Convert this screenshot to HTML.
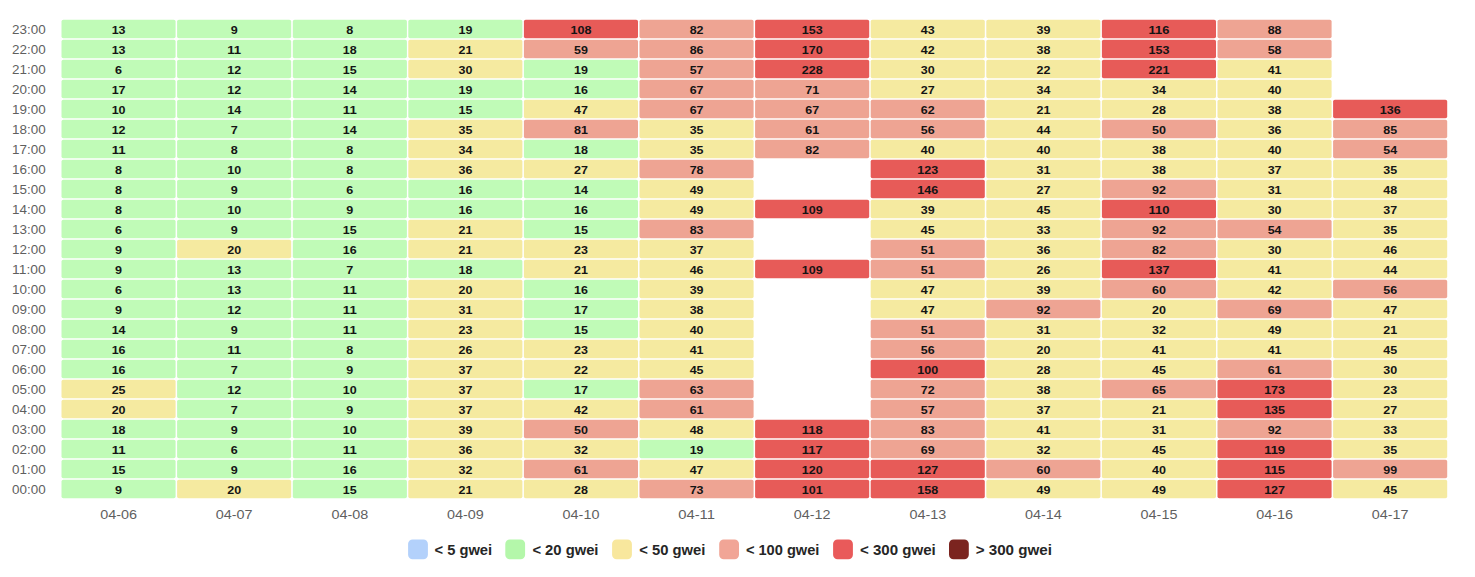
<!DOCTYPE html>
<html><head><meta charset="utf-8"><title>Gas heatmap</title>
<style>
html,body{margin:0;padding:0;background:#fff;}
body{width:1475px;height:577px;position:relative;overflow:hidden;font-family:"Liberation Sans",sans-serif;}
svg text{font-family:"Liberation Sans",sans-serif;dominant-baseline:central;}
.yl{font-size:12.2px;fill:#5f5f5f;}
.xl{font-size:12.2px;fill:#5f5f5f;text-anchor:middle;}
.v{font-size:11.0px;font-weight:bold;fill:#141414;text-anchor:middle;}
.lg{font-size:14px;font-weight:bold;fill:#262626;dominant-baseline:alphabetic;}
.legend{position:absolute;left:408px;top:539.5px;height:20px;white-space:nowrap;font-size:14px;font-weight:bold;color:#262626;}
.li{display:inline-block;height:20px;margin-right:13.5px;vertical-align:top;}
.sw{display:inline-block;width:20px;height:20px;border-radius:4.5px;vertical-align:top;margin-right:7px;}
.lt{display:inline-block;line-height:20px;vertical-align:top;}
</style></head><body>
<svg width="1475" height="577" viewBox="0 0 1475 577" style="position:absolute;left:0;top:0">
<g style="filter:blur(0.4px)">
<rect x="61.5" y="19.8" width="114.1" height="18.5" rx="1.8" fill="#c0fbb7"/>
<rect x="177.1" y="19.8" width="114.1" height="18.5" rx="1.8" fill="#c0fbb7"/>
<rect x="292.8" y="19.8" width="114.1" height="18.5" rx="1.8" fill="#c0fbb7"/>
<rect x="408.3" y="19.8" width="114.1" height="18.5" rx="1.8" fill="#c0fbb7"/>
<rect x="523.9" y="19.8" width="114.1" height="18.5" rx="1.8" fill="#e75b58"/>
<rect x="639.5" y="19.8" width="114.1" height="18.5" rx="1.8" fill="#eea493"/>
<rect x="755.1" y="19.8" width="114.1" height="18.5" rx="1.8" fill="#e75b58"/>
<rect x="870.7" y="19.8" width="114.1" height="18.5" rx="1.8" fill="#f5eaa0"/>
<rect x="986.3" y="19.8" width="114.1" height="18.5" rx="1.8" fill="#f5eaa0"/>
<rect x="1101.9" y="19.8" width="114.1" height="18.5" rx="1.8" fill="#e75b58"/>
<rect x="1217.5" y="19.8" width="114.1" height="18.5" rx="1.8" fill="#eea493"/>
<rect x="61.5" y="39.8" width="114.1" height="18.5" rx="1.8" fill="#c0fbb7"/>
<rect x="177.1" y="39.8" width="114.1" height="18.5" rx="1.8" fill="#c0fbb7"/>
<rect x="292.8" y="39.8" width="114.1" height="18.5" rx="1.8" fill="#c0fbb7"/>
<rect x="408.3" y="39.8" width="114.1" height="18.5" rx="1.8" fill="#f5eaa0"/>
<rect x="523.9" y="39.8" width="114.1" height="18.5" rx="1.8" fill="#eea493"/>
<rect x="639.5" y="39.8" width="114.1" height="18.5" rx="1.8" fill="#eea493"/>
<rect x="755.1" y="39.8" width="114.1" height="18.5" rx="1.8" fill="#e75b58"/>
<rect x="870.7" y="39.8" width="114.1" height="18.5" rx="1.8" fill="#f5eaa0"/>
<rect x="986.3" y="39.8" width="114.1" height="18.5" rx="1.8" fill="#f5eaa0"/>
<rect x="1101.9" y="39.8" width="114.1" height="18.5" rx="1.8" fill="#e75b58"/>
<rect x="1217.5" y="39.8" width="114.1" height="18.5" rx="1.8" fill="#eea493"/>
<rect x="61.5" y="59.8" width="114.1" height="18.5" rx="1.8" fill="#c0fbb7"/>
<rect x="177.1" y="59.8" width="114.1" height="18.5" rx="1.8" fill="#c0fbb7"/>
<rect x="292.8" y="59.8" width="114.1" height="18.5" rx="1.8" fill="#c0fbb7"/>
<rect x="408.3" y="59.8" width="114.1" height="18.5" rx="1.8" fill="#f5eaa0"/>
<rect x="523.9" y="59.8" width="114.1" height="18.5" rx="1.8" fill="#c0fbb7"/>
<rect x="639.5" y="59.8" width="114.1" height="18.5" rx="1.8" fill="#eea493"/>
<rect x="755.1" y="59.8" width="114.1" height="18.5" rx="1.8" fill="#e75b58"/>
<rect x="870.7" y="59.8" width="114.1" height="18.5" rx="1.8" fill="#f5eaa0"/>
<rect x="986.3" y="59.8" width="114.1" height="18.5" rx="1.8" fill="#f5eaa0"/>
<rect x="1101.9" y="59.8" width="114.1" height="18.5" rx="1.8" fill="#e75b58"/>
<rect x="1217.5" y="59.8" width="114.1" height="18.5" rx="1.8" fill="#f5eaa0"/>
<rect x="61.5" y="79.8" width="114.1" height="18.5" rx="1.8" fill="#c0fbb7"/>
<rect x="177.1" y="79.8" width="114.1" height="18.5" rx="1.8" fill="#c0fbb7"/>
<rect x="292.8" y="79.8" width="114.1" height="18.5" rx="1.8" fill="#c0fbb7"/>
<rect x="408.3" y="79.8" width="114.1" height="18.5" rx="1.8" fill="#c0fbb7"/>
<rect x="523.9" y="79.8" width="114.1" height="18.5" rx="1.8" fill="#c0fbb7"/>
<rect x="639.5" y="79.8" width="114.1" height="18.5" rx="1.8" fill="#eea493"/>
<rect x="755.1" y="79.8" width="114.1" height="18.5" rx="1.8" fill="#eea493"/>
<rect x="870.7" y="79.8" width="114.1" height="18.5" rx="1.8" fill="#f5eaa0"/>
<rect x="986.3" y="79.8" width="114.1" height="18.5" rx="1.8" fill="#f5eaa0"/>
<rect x="1101.9" y="79.8" width="114.1" height="18.5" rx="1.8" fill="#f5eaa0"/>
<rect x="1217.5" y="79.8" width="114.1" height="18.5" rx="1.8" fill="#f5eaa0"/>
<rect x="61.5" y="99.8" width="114.1" height="18.5" rx="1.8" fill="#c0fbb7"/>
<rect x="177.1" y="99.8" width="114.1" height="18.5" rx="1.8" fill="#c0fbb7"/>
<rect x="292.8" y="99.8" width="114.1" height="18.5" rx="1.8" fill="#c0fbb7"/>
<rect x="408.3" y="99.8" width="114.1" height="18.5" rx="1.8" fill="#c0fbb7"/>
<rect x="523.9" y="99.8" width="114.1" height="18.5" rx="1.8" fill="#f5eaa0"/>
<rect x="639.5" y="99.8" width="114.1" height="18.5" rx="1.8" fill="#eea493"/>
<rect x="755.1" y="99.8" width="114.1" height="18.5" rx="1.8" fill="#eea493"/>
<rect x="870.7" y="99.8" width="114.1" height="18.5" rx="1.8" fill="#eea493"/>
<rect x="986.3" y="99.8" width="114.1" height="18.5" rx="1.8" fill="#f5eaa0"/>
<rect x="1101.9" y="99.8" width="114.1" height="18.5" rx="1.8" fill="#f5eaa0"/>
<rect x="1217.5" y="99.8" width="114.1" height="18.5" rx="1.8" fill="#f5eaa0"/>
<rect x="1333.1" y="99.8" width="114.1" height="18.5" rx="1.8" fill="#e75b58"/>
<rect x="61.5" y="119.8" width="114.1" height="18.5" rx="1.8" fill="#c0fbb7"/>
<rect x="177.1" y="119.8" width="114.1" height="18.5" rx="1.8" fill="#c0fbb7"/>
<rect x="292.8" y="119.8" width="114.1" height="18.5" rx="1.8" fill="#c0fbb7"/>
<rect x="408.3" y="119.8" width="114.1" height="18.5" rx="1.8" fill="#f5eaa0"/>
<rect x="523.9" y="119.8" width="114.1" height="18.5" rx="1.8" fill="#eea493"/>
<rect x="639.5" y="119.8" width="114.1" height="18.5" rx="1.8" fill="#f5eaa0"/>
<rect x="755.1" y="119.8" width="114.1" height="18.5" rx="1.8" fill="#eea493"/>
<rect x="870.7" y="119.8" width="114.1" height="18.5" rx="1.8" fill="#eea493"/>
<rect x="986.3" y="119.8" width="114.1" height="18.5" rx="1.8" fill="#f5eaa0"/>
<rect x="1101.9" y="119.8" width="114.1" height="18.5" rx="1.8" fill="#eea493"/>
<rect x="1217.5" y="119.8" width="114.1" height="18.5" rx="1.8" fill="#f5eaa0"/>
<rect x="1333.1" y="119.8" width="114.1" height="18.5" rx="1.8" fill="#eea493"/>
<rect x="61.5" y="139.8" width="114.1" height="18.5" rx="1.8" fill="#c0fbb7"/>
<rect x="177.1" y="139.8" width="114.1" height="18.5" rx="1.8" fill="#c0fbb7"/>
<rect x="292.8" y="139.8" width="114.1" height="18.5" rx="1.8" fill="#c0fbb7"/>
<rect x="408.3" y="139.8" width="114.1" height="18.5" rx="1.8" fill="#f5eaa0"/>
<rect x="523.9" y="139.8" width="114.1" height="18.5" rx="1.8" fill="#c0fbb7"/>
<rect x="639.5" y="139.8" width="114.1" height="18.5" rx="1.8" fill="#f5eaa0"/>
<rect x="755.1" y="139.8" width="114.1" height="18.5" rx="1.8" fill="#eea493"/>
<rect x="870.7" y="139.8" width="114.1" height="18.5" rx="1.8" fill="#f5eaa0"/>
<rect x="986.3" y="139.8" width="114.1" height="18.5" rx="1.8" fill="#f5eaa0"/>
<rect x="1101.9" y="139.8" width="114.1" height="18.5" rx="1.8" fill="#f5eaa0"/>
<rect x="1217.5" y="139.8" width="114.1" height="18.5" rx="1.8" fill="#f5eaa0"/>
<rect x="1333.1" y="139.8" width="114.1" height="18.5" rx="1.8" fill="#eea493"/>
<rect x="61.5" y="159.8" width="114.1" height="18.5" rx="1.8" fill="#c0fbb7"/>
<rect x="177.1" y="159.8" width="114.1" height="18.5" rx="1.8" fill="#c0fbb7"/>
<rect x="292.8" y="159.8" width="114.1" height="18.5" rx="1.8" fill="#c0fbb7"/>
<rect x="408.3" y="159.8" width="114.1" height="18.5" rx="1.8" fill="#f5eaa0"/>
<rect x="523.9" y="159.8" width="114.1" height="18.5" rx="1.8" fill="#f5eaa0"/>
<rect x="639.5" y="159.8" width="114.1" height="18.5" rx="1.8" fill="#eea493"/>
<rect x="870.7" y="159.8" width="114.1" height="18.5" rx="1.8" fill="#e75b58"/>
<rect x="986.3" y="159.8" width="114.1" height="18.5" rx="1.8" fill="#f5eaa0"/>
<rect x="1101.9" y="159.8" width="114.1" height="18.5" rx="1.8" fill="#f5eaa0"/>
<rect x="1217.5" y="159.8" width="114.1" height="18.5" rx="1.8" fill="#f5eaa0"/>
<rect x="1333.1" y="159.8" width="114.1" height="18.5" rx="1.8" fill="#f5eaa0"/>
<rect x="61.5" y="179.8" width="114.1" height="18.5" rx="1.8" fill="#c0fbb7"/>
<rect x="177.1" y="179.8" width="114.1" height="18.5" rx="1.8" fill="#c0fbb7"/>
<rect x="292.8" y="179.8" width="114.1" height="18.5" rx="1.8" fill="#c0fbb7"/>
<rect x="408.3" y="179.8" width="114.1" height="18.5" rx="1.8" fill="#c0fbb7"/>
<rect x="523.9" y="179.8" width="114.1" height="18.5" rx="1.8" fill="#c0fbb7"/>
<rect x="639.5" y="179.8" width="114.1" height="18.5" rx="1.8" fill="#f5eaa0"/>
<rect x="870.7" y="179.8" width="114.1" height="18.5" rx="1.8" fill="#e75b58"/>
<rect x="986.3" y="179.8" width="114.1" height="18.5" rx="1.8" fill="#f5eaa0"/>
<rect x="1101.9" y="179.8" width="114.1" height="18.5" rx="1.8" fill="#eea493"/>
<rect x="1217.5" y="179.8" width="114.1" height="18.5" rx="1.8" fill="#f5eaa0"/>
<rect x="1333.1" y="179.8" width="114.1" height="18.5" rx="1.8" fill="#f5eaa0"/>
<rect x="61.5" y="199.8" width="114.1" height="18.5" rx="1.8" fill="#c0fbb7"/>
<rect x="177.1" y="199.8" width="114.1" height="18.5" rx="1.8" fill="#c0fbb7"/>
<rect x="292.8" y="199.8" width="114.1" height="18.5" rx="1.8" fill="#c0fbb7"/>
<rect x="408.3" y="199.8" width="114.1" height="18.5" rx="1.8" fill="#c0fbb7"/>
<rect x="523.9" y="199.8" width="114.1" height="18.5" rx="1.8" fill="#c0fbb7"/>
<rect x="639.5" y="199.8" width="114.1" height="18.5" rx="1.8" fill="#f5eaa0"/>
<rect x="755.1" y="199.8" width="114.1" height="18.5" rx="1.8" fill="#e75b58"/>
<rect x="870.7" y="199.8" width="114.1" height="18.5" rx="1.8" fill="#f5eaa0"/>
<rect x="986.3" y="199.8" width="114.1" height="18.5" rx="1.8" fill="#f5eaa0"/>
<rect x="1101.9" y="199.8" width="114.1" height="18.5" rx="1.8" fill="#e75b58"/>
<rect x="1217.5" y="199.8" width="114.1" height="18.5" rx="1.8" fill="#f5eaa0"/>
<rect x="1333.1" y="199.8" width="114.1" height="18.5" rx="1.8" fill="#f5eaa0"/>
<rect x="61.5" y="219.8" width="114.1" height="18.5" rx="1.8" fill="#c0fbb7"/>
<rect x="177.1" y="219.8" width="114.1" height="18.5" rx="1.8" fill="#c0fbb7"/>
<rect x="292.8" y="219.8" width="114.1" height="18.5" rx="1.8" fill="#c0fbb7"/>
<rect x="408.3" y="219.8" width="114.1" height="18.5" rx="1.8" fill="#f5eaa0"/>
<rect x="523.9" y="219.8" width="114.1" height="18.5" rx="1.8" fill="#c0fbb7"/>
<rect x="639.5" y="219.8" width="114.1" height="18.5" rx="1.8" fill="#eea493"/>
<rect x="870.7" y="219.8" width="114.1" height="18.5" rx="1.8" fill="#f5eaa0"/>
<rect x="986.3" y="219.8" width="114.1" height="18.5" rx="1.8" fill="#f5eaa0"/>
<rect x="1101.9" y="219.8" width="114.1" height="18.5" rx="1.8" fill="#eea493"/>
<rect x="1217.5" y="219.8" width="114.1" height="18.5" rx="1.8" fill="#eea493"/>
<rect x="1333.1" y="219.8" width="114.1" height="18.5" rx="1.8" fill="#f5eaa0"/>
<rect x="61.5" y="239.8" width="114.1" height="18.5" rx="1.8" fill="#c0fbb7"/>
<rect x="177.1" y="239.8" width="114.1" height="18.5" rx="1.8" fill="#f5eaa0"/>
<rect x="292.8" y="239.8" width="114.1" height="18.5" rx="1.8" fill="#c0fbb7"/>
<rect x="408.3" y="239.8" width="114.1" height="18.5" rx="1.8" fill="#f5eaa0"/>
<rect x="523.9" y="239.8" width="114.1" height="18.5" rx="1.8" fill="#f5eaa0"/>
<rect x="639.5" y="239.8" width="114.1" height="18.5" rx="1.8" fill="#f5eaa0"/>
<rect x="870.7" y="239.8" width="114.1" height="18.5" rx="1.8" fill="#eea493"/>
<rect x="986.3" y="239.8" width="114.1" height="18.5" rx="1.8" fill="#f5eaa0"/>
<rect x="1101.9" y="239.8" width="114.1" height="18.5" rx="1.8" fill="#eea493"/>
<rect x="1217.5" y="239.8" width="114.1" height="18.5" rx="1.8" fill="#f5eaa0"/>
<rect x="1333.1" y="239.8" width="114.1" height="18.5" rx="1.8" fill="#f5eaa0"/>
<rect x="61.5" y="259.8" width="114.1" height="18.5" rx="1.8" fill="#c0fbb7"/>
<rect x="177.1" y="259.8" width="114.1" height="18.5" rx="1.8" fill="#c0fbb7"/>
<rect x="292.8" y="259.8" width="114.1" height="18.5" rx="1.8" fill="#c0fbb7"/>
<rect x="408.3" y="259.8" width="114.1" height="18.5" rx="1.8" fill="#c0fbb7"/>
<rect x="523.9" y="259.8" width="114.1" height="18.5" rx="1.8" fill="#f5eaa0"/>
<rect x="639.5" y="259.8" width="114.1" height="18.5" rx="1.8" fill="#f5eaa0"/>
<rect x="755.1" y="259.8" width="114.1" height="18.5" rx="1.8" fill="#e75b58"/>
<rect x="870.7" y="259.8" width="114.1" height="18.5" rx="1.8" fill="#eea493"/>
<rect x="986.3" y="259.8" width="114.1" height="18.5" rx="1.8" fill="#f5eaa0"/>
<rect x="1101.9" y="259.8" width="114.1" height="18.5" rx="1.8" fill="#e75b58"/>
<rect x="1217.5" y="259.8" width="114.1" height="18.5" rx="1.8" fill="#f5eaa0"/>
<rect x="1333.1" y="259.8" width="114.1" height="18.5" rx="1.8" fill="#f5eaa0"/>
<rect x="61.5" y="279.8" width="114.1" height="18.5" rx="1.8" fill="#c0fbb7"/>
<rect x="177.1" y="279.8" width="114.1" height="18.5" rx="1.8" fill="#c0fbb7"/>
<rect x="292.8" y="279.8" width="114.1" height="18.5" rx="1.8" fill="#c0fbb7"/>
<rect x="408.3" y="279.8" width="114.1" height="18.5" rx="1.8" fill="#f5eaa0"/>
<rect x="523.9" y="279.8" width="114.1" height="18.5" rx="1.8" fill="#c0fbb7"/>
<rect x="639.5" y="279.8" width="114.1" height="18.5" rx="1.8" fill="#f5eaa0"/>
<rect x="870.7" y="279.8" width="114.1" height="18.5" rx="1.8" fill="#f5eaa0"/>
<rect x="986.3" y="279.8" width="114.1" height="18.5" rx="1.8" fill="#f5eaa0"/>
<rect x="1101.9" y="279.8" width="114.1" height="18.5" rx="1.8" fill="#eea493"/>
<rect x="1217.5" y="279.8" width="114.1" height="18.5" rx="1.8" fill="#f5eaa0"/>
<rect x="1333.1" y="279.8" width="114.1" height="18.5" rx="1.8" fill="#eea493"/>
<rect x="61.5" y="299.8" width="114.1" height="18.5" rx="1.8" fill="#c0fbb7"/>
<rect x="177.1" y="299.8" width="114.1" height="18.5" rx="1.8" fill="#c0fbb7"/>
<rect x="292.8" y="299.8" width="114.1" height="18.5" rx="1.8" fill="#c0fbb7"/>
<rect x="408.3" y="299.8" width="114.1" height="18.5" rx="1.8" fill="#f5eaa0"/>
<rect x="523.9" y="299.8" width="114.1" height="18.5" rx="1.8" fill="#c0fbb7"/>
<rect x="639.5" y="299.8" width="114.1" height="18.5" rx="1.8" fill="#f5eaa0"/>
<rect x="870.7" y="299.8" width="114.1" height="18.5" rx="1.8" fill="#f5eaa0"/>
<rect x="986.3" y="299.8" width="114.1" height="18.5" rx="1.8" fill="#eea493"/>
<rect x="1101.9" y="299.8" width="114.1" height="18.5" rx="1.8" fill="#f5eaa0"/>
<rect x="1217.5" y="299.8" width="114.1" height="18.5" rx="1.8" fill="#eea493"/>
<rect x="1333.1" y="299.8" width="114.1" height="18.5" rx="1.8" fill="#f5eaa0"/>
<rect x="61.5" y="319.8" width="114.1" height="18.5" rx="1.8" fill="#c0fbb7"/>
<rect x="177.1" y="319.8" width="114.1" height="18.5" rx="1.8" fill="#c0fbb7"/>
<rect x="292.8" y="319.8" width="114.1" height="18.5" rx="1.8" fill="#c0fbb7"/>
<rect x="408.3" y="319.8" width="114.1" height="18.5" rx="1.8" fill="#f5eaa0"/>
<rect x="523.9" y="319.8" width="114.1" height="18.5" rx="1.8" fill="#c0fbb7"/>
<rect x="639.5" y="319.8" width="114.1" height="18.5" rx="1.8" fill="#f5eaa0"/>
<rect x="870.7" y="319.8" width="114.1" height="18.5" rx="1.8" fill="#eea493"/>
<rect x="986.3" y="319.8" width="114.1" height="18.5" rx="1.8" fill="#f5eaa0"/>
<rect x="1101.9" y="319.8" width="114.1" height="18.5" rx="1.8" fill="#f5eaa0"/>
<rect x="1217.5" y="319.8" width="114.1" height="18.5" rx="1.8" fill="#f5eaa0"/>
<rect x="1333.1" y="319.8" width="114.1" height="18.5" rx="1.8" fill="#f5eaa0"/>
<rect x="61.5" y="339.8" width="114.1" height="18.5" rx="1.8" fill="#c0fbb7"/>
<rect x="177.1" y="339.8" width="114.1" height="18.5" rx="1.8" fill="#c0fbb7"/>
<rect x="292.8" y="339.8" width="114.1" height="18.5" rx="1.8" fill="#c0fbb7"/>
<rect x="408.3" y="339.8" width="114.1" height="18.5" rx="1.8" fill="#f5eaa0"/>
<rect x="523.9" y="339.8" width="114.1" height="18.5" rx="1.8" fill="#f5eaa0"/>
<rect x="639.5" y="339.8" width="114.1" height="18.5" rx="1.8" fill="#f5eaa0"/>
<rect x="870.7" y="339.8" width="114.1" height="18.5" rx="1.8" fill="#eea493"/>
<rect x="986.3" y="339.8" width="114.1" height="18.5" rx="1.8" fill="#f5eaa0"/>
<rect x="1101.9" y="339.8" width="114.1" height="18.5" rx="1.8" fill="#f5eaa0"/>
<rect x="1217.5" y="339.8" width="114.1" height="18.5" rx="1.8" fill="#f5eaa0"/>
<rect x="1333.1" y="339.8" width="114.1" height="18.5" rx="1.8" fill="#f5eaa0"/>
<rect x="61.5" y="359.8" width="114.1" height="18.5" rx="1.8" fill="#c0fbb7"/>
<rect x="177.1" y="359.8" width="114.1" height="18.5" rx="1.8" fill="#c0fbb7"/>
<rect x="292.8" y="359.8" width="114.1" height="18.5" rx="1.8" fill="#c0fbb7"/>
<rect x="408.3" y="359.8" width="114.1" height="18.5" rx="1.8" fill="#f5eaa0"/>
<rect x="523.9" y="359.8" width="114.1" height="18.5" rx="1.8" fill="#f5eaa0"/>
<rect x="639.5" y="359.8" width="114.1" height="18.5" rx="1.8" fill="#f5eaa0"/>
<rect x="870.7" y="359.8" width="114.1" height="18.5" rx="1.8" fill="#e75b58"/>
<rect x="986.3" y="359.8" width="114.1" height="18.5" rx="1.8" fill="#f5eaa0"/>
<rect x="1101.9" y="359.8" width="114.1" height="18.5" rx="1.8" fill="#f5eaa0"/>
<rect x="1217.5" y="359.8" width="114.1" height="18.5" rx="1.8" fill="#eea493"/>
<rect x="1333.1" y="359.8" width="114.1" height="18.5" rx="1.8" fill="#f5eaa0"/>
<rect x="61.5" y="379.8" width="114.1" height="18.5" rx="1.8" fill="#f5eaa0"/>
<rect x="177.1" y="379.8" width="114.1" height="18.5" rx="1.8" fill="#c0fbb7"/>
<rect x="292.8" y="379.8" width="114.1" height="18.5" rx="1.8" fill="#c0fbb7"/>
<rect x="408.3" y="379.8" width="114.1" height="18.5" rx="1.8" fill="#f5eaa0"/>
<rect x="523.9" y="379.8" width="114.1" height="18.5" rx="1.8" fill="#c0fbb7"/>
<rect x="639.5" y="379.8" width="114.1" height="18.5" rx="1.8" fill="#eea493"/>
<rect x="870.7" y="379.8" width="114.1" height="18.5" rx="1.8" fill="#eea493"/>
<rect x="986.3" y="379.8" width="114.1" height="18.5" rx="1.8" fill="#f5eaa0"/>
<rect x="1101.9" y="379.8" width="114.1" height="18.5" rx="1.8" fill="#eea493"/>
<rect x="1217.5" y="379.8" width="114.1" height="18.5" rx="1.8" fill="#e75b58"/>
<rect x="1333.1" y="379.8" width="114.1" height="18.5" rx="1.8" fill="#f5eaa0"/>
<rect x="61.5" y="399.8" width="114.1" height="18.5" rx="1.8" fill="#f5eaa0"/>
<rect x="177.1" y="399.8" width="114.1" height="18.5" rx="1.8" fill="#c0fbb7"/>
<rect x="292.8" y="399.8" width="114.1" height="18.5" rx="1.8" fill="#c0fbb7"/>
<rect x="408.3" y="399.8" width="114.1" height="18.5" rx="1.8" fill="#f5eaa0"/>
<rect x="523.9" y="399.8" width="114.1" height="18.5" rx="1.8" fill="#f5eaa0"/>
<rect x="639.5" y="399.8" width="114.1" height="18.5" rx="1.8" fill="#eea493"/>
<rect x="870.7" y="399.8" width="114.1" height="18.5" rx="1.8" fill="#eea493"/>
<rect x="986.3" y="399.8" width="114.1" height="18.5" rx="1.8" fill="#f5eaa0"/>
<rect x="1101.9" y="399.8" width="114.1" height="18.5" rx="1.8" fill="#f5eaa0"/>
<rect x="1217.5" y="399.8" width="114.1" height="18.5" rx="1.8" fill="#e75b58"/>
<rect x="1333.1" y="399.8" width="114.1" height="18.5" rx="1.8" fill="#f5eaa0"/>
<rect x="61.5" y="419.8" width="114.1" height="18.5" rx="1.8" fill="#c0fbb7"/>
<rect x="177.1" y="419.8" width="114.1" height="18.5" rx="1.8" fill="#c0fbb7"/>
<rect x="292.8" y="419.8" width="114.1" height="18.5" rx="1.8" fill="#c0fbb7"/>
<rect x="408.3" y="419.8" width="114.1" height="18.5" rx="1.8" fill="#f5eaa0"/>
<rect x="523.9" y="419.8" width="114.1" height="18.5" rx="1.8" fill="#eea493"/>
<rect x="639.5" y="419.8" width="114.1" height="18.5" rx="1.8" fill="#f5eaa0"/>
<rect x="755.1" y="419.8" width="114.1" height="18.5" rx="1.8" fill="#e75b58"/>
<rect x="870.7" y="419.8" width="114.1" height="18.5" rx="1.8" fill="#eea493"/>
<rect x="986.3" y="419.8" width="114.1" height="18.5" rx="1.8" fill="#f5eaa0"/>
<rect x="1101.9" y="419.8" width="114.1" height="18.5" rx="1.8" fill="#f5eaa0"/>
<rect x="1217.5" y="419.8" width="114.1" height="18.5" rx="1.8" fill="#eea493"/>
<rect x="1333.1" y="419.8" width="114.1" height="18.5" rx="1.8" fill="#f5eaa0"/>
<rect x="61.5" y="439.8" width="114.1" height="18.5" rx="1.8" fill="#c0fbb7"/>
<rect x="177.1" y="439.8" width="114.1" height="18.5" rx="1.8" fill="#c0fbb7"/>
<rect x="292.8" y="439.8" width="114.1" height="18.5" rx="1.8" fill="#c0fbb7"/>
<rect x="408.3" y="439.8" width="114.1" height="18.5" rx="1.8" fill="#f5eaa0"/>
<rect x="523.9" y="439.8" width="114.1" height="18.5" rx="1.8" fill="#f5eaa0"/>
<rect x="639.5" y="439.8" width="114.1" height="18.5" rx="1.8" fill="#c0fbb7"/>
<rect x="755.1" y="439.8" width="114.1" height="18.5" rx="1.8" fill="#e75b58"/>
<rect x="870.7" y="439.8" width="114.1" height="18.5" rx="1.8" fill="#eea493"/>
<rect x="986.3" y="439.8" width="114.1" height="18.5" rx="1.8" fill="#f5eaa0"/>
<rect x="1101.9" y="439.8" width="114.1" height="18.5" rx="1.8" fill="#f5eaa0"/>
<rect x="1217.5" y="439.8" width="114.1" height="18.5" rx="1.8" fill="#e75b58"/>
<rect x="1333.1" y="439.8" width="114.1" height="18.5" rx="1.8" fill="#f5eaa0"/>
<rect x="61.5" y="459.8" width="114.1" height="18.5" rx="1.8" fill="#c0fbb7"/>
<rect x="177.1" y="459.8" width="114.1" height="18.5" rx="1.8" fill="#c0fbb7"/>
<rect x="292.8" y="459.8" width="114.1" height="18.5" rx="1.8" fill="#c0fbb7"/>
<rect x="408.3" y="459.8" width="114.1" height="18.5" rx="1.8" fill="#f5eaa0"/>
<rect x="523.9" y="459.8" width="114.1" height="18.5" rx="1.8" fill="#eea493"/>
<rect x="639.5" y="459.8" width="114.1" height="18.5" rx="1.8" fill="#f5eaa0"/>
<rect x="755.1" y="459.8" width="114.1" height="18.5" rx="1.8" fill="#e75b58"/>
<rect x="870.7" y="459.8" width="114.1" height="18.5" rx="1.8" fill="#e75b58"/>
<rect x="986.3" y="459.8" width="114.1" height="18.5" rx="1.8" fill="#eea493"/>
<rect x="1101.9" y="459.8" width="114.1" height="18.5" rx="1.8" fill="#f5eaa0"/>
<rect x="1217.5" y="459.8" width="114.1" height="18.5" rx="1.8" fill="#e75b58"/>
<rect x="1333.1" y="459.8" width="114.1" height="18.5" rx="1.8" fill="#eea493"/>
<rect x="61.5" y="479.8" width="114.1" height="18.5" rx="1.8" fill="#c0fbb7"/>
<rect x="177.1" y="479.8" width="114.1" height="18.5" rx="1.8" fill="#f5eaa0"/>
<rect x="292.8" y="479.8" width="114.1" height="18.5" rx="1.8" fill="#c0fbb7"/>
<rect x="408.3" y="479.8" width="114.1" height="18.5" rx="1.8" fill="#f5eaa0"/>
<rect x="523.9" y="479.8" width="114.1" height="18.5" rx="1.8" fill="#f5eaa0"/>
<rect x="639.5" y="479.8" width="114.1" height="18.5" rx="1.8" fill="#eea493"/>
<rect x="755.1" y="479.8" width="114.1" height="18.5" rx="1.8" fill="#e75b58"/>
<rect x="870.7" y="479.8" width="114.1" height="18.5" rx="1.8" fill="#e75b58"/>
<rect x="986.3" y="479.8" width="114.1" height="18.5" rx="1.8" fill="#f5eaa0"/>
<rect x="1101.9" y="479.8" width="114.1" height="18.5" rx="1.8" fill="#f5eaa0"/>
<rect x="1217.5" y="479.8" width="114.1" height="18.5" rx="1.8" fill="#e75b58"/>
<rect x="1333.1" y="479.8" width="114.1" height="18.5" rx="1.8" fill="#f5eaa0"/>
</g>
<text x="12.1" y="29.5" class="yl" textLength="33.6" lengthAdjust="spacingAndGlyphs">23:00</text>
<text x="118.6" y="29.8" class="v" textLength="13.9" lengthAdjust="spacingAndGlyphs">13</text>
<text x="234.2" y="29.8" class="v" textLength="7.0" lengthAdjust="spacingAndGlyphs">9</text>
<text x="349.8" y="29.8" class="v" textLength="7.0" lengthAdjust="spacingAndGlyphs">8</text>
<text x="465.4" y="29.8" class="v" textLength="13.9" lengthAdjust="spacingAndGlyphs">19</text>
<text x="581.0" y="29.8" class="v" textLength="20.9" lengthAdjust="spacingAndGlyphs">108</text>
<text x="696.6" y="29.8" class="v" textLength="13.9" lengthAdjust="spacingAndGlyphs">82</text>
<text x="812.2" y="29.8" class="v" textLength="20.9" lengthAdjust="spacingAndGlyphs">153</text>
<text x="927.8" y="29.8" class="v" textLength="13.9" lengthAdjust="spacingAndGlyphs">43</text>
<text x="1043.4" y="29.8" class="v" textLength="13.9" lengthAdjust="spacingAndGlyphs">39</text>
<text x="1159.0" y="29.8" class="v" textLength="20.9" lengthAdjust="spacingAndGlyphs">116</text>
<text x="1274.6" y="29.8" class="v" textLength="13.9" lengthAdjust="spacingAndGlyphs">88</text>
<text x="12.1" y="49.5" class="yl" textLength="33.6" lengthAdjust="spacingAndGlyphs">22:00</text>
<text x="118.6" y="49.8" class="v" textLength="13.9" lengthAdjust="spacingAndGlyphs">13</text>
<text x="234.2" y="49.8" class="v" textLength="13.9" lengthAdjust="spacingAndGlyphs">11</text>
<text x="349.8" y="49.8" class="v" textLength="13.9" lengthAdjust="spacingAndGlyphs">18</text>
<text x="465.4" y="49.8" class="v" textLength="13.9" lengthAdjust="spacingAndGlyphs">21</text>
<text x="581.0" y="49.8" class="v" textLength="13.9" lengthAdjust="spacingAndGlyphs">59</text>
<text x="696.6" y="49.8" class="v" textLength="13.9" lengthAdjust="spacingAndGlyphs">86</text>
<text x="812.2" y="49.8" class="v" textLength="20.9" lengthAdjust="spacingAndGlyphs">170</text>
<text x="927.8" y="49.8" class="v" textLength="13.9" lengthAdjust="spacingAndGlyphs">42</text>
<text x="1043.4" y="49.8" class="v" textLength="13.9" lengthAdjust="spacingAndGlyphs">38</text>
<text x="1159.0" y="49.8" class="v" textLength="20.9" lengthAdjust="spacingAndGlyphs">153</text>
<text x="1274.6" y="49.8" class="v" textLength="13.9" lengthAdjust="spacingAndGlyphs">58</text>
<text x="12.1" y="69.5" class="yl" textLength="33.6" lengthAdjust="spacingAndGlyphs">21:00</text>
<text x="118.6" y="69.8" class="v" textLength="7.0" lengthAdjust="spacingAndGlyphs">6</text>
<text x="234.2" y="69.8" class="v" textLength="13.9" lengthAdjust="spacingAndGlyphs">12</text>
<text x="349.8" y="69.8" class="v" textLength="13.9" lengthAdjust="spacingAndGlyphs">15</text>
<text x="465.4" y="69.8" class="v" textLength="13.9" lengthAdjust="spacingAndGlyphs">30</text>
<text x="581.0" y="69.8" class="v" textLength="13.9" lengthAdjust="spacingAndGlyphs">19</text>
<text x="696.6" y="69.8" class="v" textLength="13.9" lengthAdjust="spacingAndGlyphs">57</text>
<text x="812.2" y="69.8" class="v" textLength="20.9" lengthAdjust="spacingAndGlyphs">228</text>
<text x="927.8" y="69.8" class="v" textLength="13.9" lengthAdjust="spacingAndGlyphs">30</text>
<text x="1043.4" y="69.8" class="v" textLength="13.9" lengthAdjust="spacingAndGlyphs">22</text>
<text x="1159.0" y="69.8" class="v" textLength="20.9" lengthAdjust="spacingAndGlyphs">221</text>
<text x="1274.6" y="69.8" class="v" textLength="13.9" lengthAdjust="spacingAndGlyphs">41</text>
<text x="12.1" y="89.5" class="yl" textLength="33.6" lengthAdjust="spacingAndGlyphs">20:00</text>
<text x="118.6" y="89.8" class="v" textLength="13.9" lengthAdjust="spacingAndGlyphs">17</text>
<text x="234.2" y="89.8" class="v" textLength="13.9" lengthAdjust="spacingAndGlyphs">12</text>
<text x="349.8" y="89.8" class="v" textLength="13.9" lengthAdjust="spacingAndGlyphs">14</text>
<text x="465.4" y="89.8" class="v" textLength="13.9" lengthAdjust="spacingAndGlyphs">19</text>
<text x="581.0" y="89.8" class="v" textLength="13.9" lengthAdjust="spacingAndGlyphs">16</text>
<text x="696.6" y="89.8" class="v" textLength="13.9" lengthAdjust="spacingAndGlyphs">67</text>
<text x="812.2" y="89.8" class="v" textLength="13.9" lengthAdjust="spacingAndGlyphs">71</text>
<text x="927.8" y="89.8" class="v" textLength="13.9" lengthAdjust="spacingAndGlyphs">27</text>
<text x="1043.4" y="89.8" class="v" textLength="13.9" lengthAdjust="spacingAndGlyphs">34</text>
<text x="1159.0" y="89.8" class="v" textLength="13.9" lengthAdjust="spacingAndGlyphs">34</text>
<text x="1274.6" y="89.8" class="v" textLength="13.9" lengthAdjust="spacingAndGlyphs">40</text>
<text x="12.1" y="109.5" class="yl" textLength="33.6" lengthAdjust="spacingAndGlyphs">19:00</text>
<text x="118.6" y="109.8" class="v" textLength="13.9" lengthAdjust="spacingAndGlyphs">10</text>
<text x="234.2" y="109.8" class="v" textLength="13.9" lengthAdjust="spacingAndGlyphs">14</text>
<text x="349.8" y="109.8" class="v" textLength="13.9" lengthAdjust="spacingAndGlyphs">11</text>
<text x="465.4" y="109.8" class="v" textLength="13.9" lengthAdjust="spacingAndGlyphs">15</text>
<text x="581.0" y="109.8" class="v" textLength="13.9" lengthAdjust="spacingAndGlyphs">47</text>
<text x="696.6" y="109.8" class="v" textLength="13.9" lengthAdjust="spacingAndGlyphs">67</text>
<text x="812.2" y="109.8" class="v" textLength="13.9" lengthAdjust="spacingAndGlyphs">67</text>
<text x="927.8" y="109.8" class="v" textLength="13.9" lengthAdjust="spacingAndGlyphs">62</text>
<text x="1043.4" y="109.8" class="v" textLength="13.9" lengthAdjust="spacingAndGlyphs">21</text>
<text x="1159.0" y="109.8" class="v" textLength="13.9" lengthAdjust="spacingAndGlyphs">28</text>
<text x="1274.6" y="109.8" class="v" textLength="13.9" lengthAdjust="spacingAndGlyphs">38</text>
<text x="1390.2" y="109.8" class="v" textLength="20.9" lengthAdjust="spacingAndGlyphs">136</text>
<text x="12.1" y="129.5" class="yl" textLength="33.6" lengthAdjust="spacingAndGlyphs">18:00</text>
<text x="118.6" y="129.8" class="v" textLength="13.9" lengthAdjust="spacingAndGlyphs">12</text>
<text x="234.2" y="129.8" class="v" textLength="7.0" lengthAdjust="spacingAndGlyphs">7</text>
<text x="349.8" y="129.8" class="v" textLength="13.9" lengthAdjust="spacingAndGlyphs">14</text>
<text x="465.4" y="129.8" class="v" textLength="13.9" lengthAdjust="spacingAndGlyphs">35</text>
<text x="581.0" y="129.8" class="v" textLength="13.9" lengthAdjust="spacingAndGlyphs">81</text>
<text x="696.6" y="129.8" class="v" textLength="13.9" lengthAdjust="spacingAndGlyphs">35</text>
<text x="812.2" y="129.8" class="v" textLength="13.9" lengthAdjust="spacingAndGlyphs">61</text>
<text x="927.8" y="129.8" class="v" textLength="13.9" lengthAdjust="spacingAndGlyphs">56</text>
<text x="1043.4" y="129.8" class="v" textLength="13.9" lengthAdjust="spacingAndGlyphs">44</text>
<text x="1159.0" y="129.8" class="v" textLength="13.9" lengthAdjust="spacingAndGlyphs">50</text>
<text x="1274.6" y="129.8" class="v" textLength="13.9" lengthAdjust="spacingAndGlyphs">36</text>
<text x="1390.2" y="129.8" class="v" textLength="13.9" lengthAdjust="spacingAndGlyphs">85</text>
<text x="12.1" y="149.5" class="yl" textLength="33.6" lengthAdjust="spacingAndGlyphs">17:00</text>
<text x="118.6" y="149.8" class="v" textLength="13.9" lengthAdjust="spacingAndGlyphs">11</text>
<text x="234.2" y="149.8" class="v" textLength="7.0" lengthAdjust="spacingAndGlyphs">8</text>
<text x="349.8" y="149.8" class="v" textLength="7.0" lengthAdjust="spacingAndGlyphs">8</text>
<text x="465.4" y="149.8" class="v" textLength="13.9" lengthAdjust="spacingAndGlyphs">34</text>
<text x="581.0" y="149.8" class="v" textLength="13.9" lengthAdjust="spacingAndGlyphs">18</text>
<text x="696.6" y="149.8" class="v" textLength="13.9" lengthAdjust="spacingAndGlyphs">35</text>
<text x="812.2" y="149.8" class="v" textLength="13.9" lengthAdjust="spacingAndGlyphs">82</text>
<text x="927.8" y="149.8" class="v" textLength="13.9" lengthAdjust="spacingAndGlyphs">40</text>
<text x="1043.4" y="149.8" class="v" textLength="13.9" lengthAdjust="spacingAndGlyphs">40</text>
<text x="1159.0" y="149.8" class="v" textLength="13.9" lengthAdjust="spacingAndGlyphs">38</text>
<text x="1274.6" y="149.8" class="v" textLength="13.9" lengthAdjust="spacingAndGlyphs">40</text>
<text x="1390.2" y="149.8" class="v" textLength="13.9" lengthAdjust="spacingAndGlyphs">54</text>
<text x="12.1" y="169.5" class="yl" textLength="33.6" lengthAdjust="spacingAndGlyphs">16:00</text>
<text x="118.6" y="169.8" class="v" textLength="7.0" lengthAdjust="spacingAndGlyphs">8</text>
<text x="234.2" y="169.8" class="v" textLength="13.9" lengthAdjust="spacingAndGlyphs">10</text>
<text x="349.8" y="169.8" class="v" textLength="7.0" lengthAdjust="spacingAndGlyphs">8</text>
<text x="465.4" y="169.8" class="v" textLength="13.9" lengthAdjust="spacingAndGlyphs">36</text>
<text x="581.0" y="169.8" class="v" textLength="13.9" lengthAdjust="spacingAndGlyphs">27</text>
<text x="696.6" y="169.8" class="v" textLength="13.9" lengthAdjust="spacingAndGlyphs">78</text>
<text x="927.8" y="169.8" class="v" textLength="20.9" lengthAdjust="spacingAndGlyphs">123</text>
<text x="1043.4" y="169.8" class="v" textLength="13.9" lengthAdjust="spacingAndGlyphs">31</text>
<text x="1159.0" y="169.8" class="v" textLength="13.9" lengthAdjust="spacingAndGlyphs">38</text>
<text x="1274.6" y="169.8" class="v" textLength="13.9" lengthAdjust="spacingAndGlyphs">37</text>
<text x="1390.2" y="169.8" class="v" textLength="13.9" lengthAdjust="spacingAndGlyphs">35</text>
<text x="12.1" y="189.5" class="yl" textLength="33.6" lengthAdjust="spacingAndGlyphs">15:00</text>
<text x="118.6" y="189.8" class="v" textLength="7.0" lengthAdjust="spacingAndGlyphs">8</text>
<text x="234.2" y="189.8" class="v" textLength="7.0" lengthAdjust="spacingAndGlyphs">9</text>
<text x="349.8" y="189.8" class="v" textLength="7.0" lengthAdjust="spacingAndGlyphs">6</text>
<text x="465.4" y="189.8" class="v" textLength="13.9" lengthAdjust="spacingAndGlyphs">16</text>
<text x="581.0" y="189.8" class="v" textLength="13.9" lengthAdjust="spacingAndGlyphs">14</text>
<text x="696.6" y="189.8" class="v" textLength="13.9" lengthAdjust="spacingAndGlyphs">49</text>
<text x="927.8" y="189.8" class="v" textLength="20.9" lengthAdjust="spacingAndGlyphs">146</text>
<text x="1043.4" y="189.8" class="v" textLength="13.9" lengthAdjust="spacingAndGlyphs">27</text>
<text x="1159.0" y="189.8" class="v" textLength="13.9" lengthAdjust="spacingAndGlyphs">92</text>
<text x="1274.6" y="189.8" class="v" textLength="13.9" lengthAdjust="spacingAndGlyphs">31</text>
<text x="1390.2" y="189.8" class="v" textLength="13.9" lengthAdjust="spacingAndGlyphs">48</text>
<text x="12.1" y="209.5" class="yl" textLength="33.6" lengthAdjust="spacingAndGlyphs">14:00</text>
<text x="118.6" y="209.8" class="v" textLength="7.0" lengthAdjust="spacingAndGlyphs">8</text>
<text x="234.2" y="209.8" class="v" textLength="13.9" lengthAdjust="spacingAndGlyphs">10</text>
<text x="349.8" y="209.8" class="v" textLength="7.0" lengthAdjust="spacingAndGlyphs">9</text>
<text x="465.4" y="209.8" class="v" textLength="13.9" lengthAdjust="spacingAndGlyphs">16</text>
<text x="581.0" y="209.8" class="v" textLength="13.9" lengthAdjust="spacingAndGlyphs">16</text>
<text x="696.6" y="209.8" class="v" textLength="13.9" lengthAdjust="spacingAndGlyphs">49</text>
<text x="812.2" y="209.8" class="v" textLength="20.9" lengthAdjust="spacingAndGlyphs">109</text>
<text x="927.8" y="209.8" class="v" textLength="13.9" lengthAdjust="spacingAndGlyphs">39</text>
<text x="1043.4" y="209.8" class="v" textLength="13.9" lengthAdjust="spacingAndGlyphs">45</text>
<text x="1159.0" y="209.8" class="v" textLength="20.9" lengthAdjust="spacingAndGlyphs">110</text>
<text x="1274.6" y="209.8" class="v" textLength="13.9" lengthAdjust="spacingAndGlyphs">30</text>
<text x="1390.2" y="209.8" class="v" textLength="13.9" lengthAdjust="spacingAndGlyphs">37</text>
<text x="12.1" y="229.5" class="yl" textLength="33.6" lengthAdjust="spacingAndGlyphs">13:00</text>
<text x="118.6" y="229.8" class="v" textLength="7.0" lengthAdjust="spacingAndGlyphs">6</text>
<text x="234.2" y="229.8" class="v" textLength="7.0" lengthAdjust="spacingAndGlyphs">9</text>
<text x="349.8" y="229.8" class="v" textLength="13.9" lengthAdjust="spacingAndGlyphs">15</text>
<text x="465.4" y="229.8" class="v" textLength="13.9" lengthAdjust="spacingAndGlyphs">21</text>
<text x="581.0" y="229.8" class="v" textLength="13.9" lengthAdjust="spacingAndGlyphs">15</text>
<text x="696.6" y="229.8" class="v" textLength="13.9" lengthAdjust="spacingAndGlyphs">83</text>
<text x="927.8" y="229.8" class="v" textLength="13.9" lengthAdjust="spacingAndGlyphs">45</text>
<text x="1043.4" y="229.8" class="v" textLength="13.9" lengthAdjust="spacingAndGlyphs">33</text>
<text x="1159.0" y="229.8" class="v" textLength="13.9" lengthAdjust="spacingAndGlyphs">92</text>
<text x="1274.6" y="229.8" class="v" textLength="13.9" lengthAdjust="spacingAndGlyphs">54</text>
<text x="1390.2" y="229.8" class="v" textLength="13.9" lengthAdjust="spacingAndGlyphs">35</text>
<text x="12.1" y="249.5" class="yl" textLength="33.6" lengthAdjust="spacingAndGlyphs">12:00</text>
<text x="118.6" y="249.8" class="v" textLength="7.0" lengthAdjust="spacingAndGlyphs">9</text>
<text x="234.2" y="249.8" class="v" textLength="13.9" lengthAdjust="spacingAndGlyphs">20</text>
<text x="349.8" y="249.8" class="v" textLength="13.9" lengthAdjust="spacingAndGlyphs">16</text>
<text x="465.4" y="249.8" class="v" textLength="13.9" lengthAdjust="spacingAndGlyphs">21</text>
<text x="581.0" y="249.8" class="v" textLength="13.9" lengthAdjust="spacingAndGlyphs">23</text>
<text x="696.6" y="249.8" class="v" textLength="13.9" lengthAdjust="spacingAndGlyphs">37</text>
<text x="927.8" y="249.8" class="v" textLength="13.9" lengthAdjust="spacingAndGlyphs">51</text>
<text x="1043.4" y="249.8" class="v" textLength="13.9" lengthAdjust="spacingAndGlyphs">36</text>
<text x="1159.0" y="249.8" class="v" textLength="13.9" lengthAdjust="spacingAndGlyphs">82</text>
<text x="1274.6" y="249.8" class="v" textLength="13.9" lengthAdjust="spacingAndGlyphs">30</text>
<text x="1390.2" y="249.8" class="v" textLength="13.9" lengthAdjust="spacingAndGlyphs">46</text>
<text x="12.1" y="269.5" class="yl" textLength="33.6" lengthAdjust="spacingAndGlyphs">11:00</text>
<text x="118.6" y="269.8" class="v" textLength="7.0" lengthAdjust="spacingAndGlyphs">9</text>
<text x="234.2" y="269.8" class="v" textLength="13.9" lengthAdjust="spacingAndGlyphs">13</text>
<text x="349.8" y="269.8" class="v" textLength="7.0" lengthAdjust="spacingAndGlyphs">7</text>
<text x="465.4" y="269.8" class="v" textLength="13.9" lengthAdjust="spacingAndGlyphs">18</text>
<text x="581.0" y="269.8" class="v" textLength="13.9" lengthAdjust="spacingAndGlyphs">21</text>
<text x="696.6" y="269.8" class="v" textLength="13.9" lengthAdjust="spacingAndGlyphs">46</text>
<text x="812.2" y="269.8" class="v" textLength="20.9" lengthAdjust="spacingAndGlyphs">109</text>
<text x="927.8" y="269.8" class="v" textLength="13.9" lengthAdjust="spacingAndGlyphs">51</text>
<text x="1043.4" y="269.8" class="v" textLength="13.9" lengthAdjust="spacingAndGlyphs">26</text>
<text x="1159.0" y="269.8" class="v" textLength="20.9" lengthAdjust="spacingAndGlyphs">137</text>
<text x="1274.6" y="269.8" class="v" textLength="13.9" lengthAdjust="spacingAndGlyphs">41</text>
<text x="1390.2" y="269.8" class="v" textLength="13.9" lengthAdjust="spacingAndGlyphs">44</text>
<text x="12.1" y="289.5" class="yl" textLength="33.6" lengthAdjust="spacingAndGlyphs">10:00</text>
<text x="118.6" y="289.8" class="v" textLength="7.0" lengthAdjust="spacingAndGlyphs">6</text>
<text x="234.2" y="289.8" class="v" textLength="13.9" lengthAdjust="spacingAndGlyphs">13</text>
<text x="349.8" y="289.8" class="v" textLength="13.9" lengthAdjust="spacingAndGlyphs">11</text>
<text x="465.4" y="289.8" class="v" textLength="13.9" lengthAdjust="spacingAndGlyphs">20</text>
<text x="581.0" y="289.8" class="v" textLength="13.9" lengthAdjust="spacingAndGlyphs">16</text>
<text x="696.6" y="289.8" class="v" textLength="13.9" lengthAdjust="spacingAndGlyphs">39</text>
<text x="927.8" y="289.8" class="v" textLength="13.9" lengthAdjust="spacingAndGlyphs">47</text>
<text x="1043.4" y="289.8" class="v" textLength="13.9" lengthAdjust="spacingAndGlyphs">39</text>
<text x="1159.0" y="289.8" class="v" textLength="13.9" lengthAdjust="spacingAndGlyphs">60</text>
<text x="1274.6" y="289.8" class="v" textLength="13.9" lengthAdjust="spacingAndGlyphs">42</text>
<text x="1390.2" y="289.8" class="v" textLength="13.9" lengthAdjust="spacingAndGlyphs">56</text>
<text x="12.1" y="309.5" class="yl" textLength="33.6" lengthAdjust="spacingAndGlyphs">09:00</text>
<text x="118.6" y="309.8" class="v" textLength="7.0" lengthAdjust="spacingAndGlyphs">9</text>
<text x="234.2" y="309.8" class="v" textLength="13.9" lengthAdjust="spacingAndGlyphs">12</text>
<text x="349.8" y="309.8" class="v" textLength="13.9" lengthAdjust="spacingAndGlyphs">11</text>
<text x="465.4" y="309.8" class="v" textLength="13.9" lengthAdjust="spacingAndGlyphs">31</text>
<text x="581.0" y="309.8" class="v" textLength="13.9" lengthAdjust="spacingAndGlyphs">17</text>
<text x="696.6" y="309.8" class="v" textLength="13.9" lengthAdjust="spacingAndGlyphs">38</text>
<text x="927.8" y="309.8" class="v" textLength="13.9" lengthAdjust="spacingAndGlyphs">47</text>
<text x="1043.4" y="309.8" class="v" textLength="13.9" lengthAdjust="spacingAndGlyphs">92</text>
<text x="1159.0" y="309.8" class="v" textLength="13.9" lengthAdjust="spacingAndGlyphs">20</text>
<text x="1274.6" y="309.8" class="v" textLength="13.9" lengthAdjust="spacingAndGlyphs">69</text>
<text x="1390.2" y="309.8" class="v" textLength="13.9" lengthAdjust="spacingAndGlyphs">47</text>
<text x="12.1" y="329.5" class="yl" textLength="33.6" lengthAdjust="spacingAndGlyphs">08:00</text>
<text x="118.6" y="329.8" class="v" textLength="13.9" lengthAdjust="spacingAndGlyphs">14</text>
<text x="234.2" y="329.8" class="v" textLength="7.0" lengthAdjust="spacingAndGlyphs">9</text>
<text x="349.8" y="329.8" class="v" textLength="13.9" lengthAdjust="spacingAndGlyphs">11</text>
<text x="465.4" y="329.8" class="v" textLength="13.9" lengthAdjust="spacingAndGlyphs">23</text>
<text x="581.0" y="329.8" class="v" textLength="13.9" lengthAdjust="spacingAndGlyphs">15</text>
<text x="696.6" y="329.8" class="v" textLength="13.9" lengthAdjust="spacingAndGlyphs">40</text>
<text x="927.8" y="329.8" class="v" textLength="13.9" lengthAdjust="spacingAndGlyphs">51</text>
<text x="1043.4" y="329.8" class="v" textLength="13.9" lengthAdjust="spacingAndGlyphs">31</text>
<text x="1159.0" y="329.8" class="v" textLength="13.9" lengthAdjust="spacingAndGlyphs">32</text>
<text x="1274.6" y="329.8" class="v" textLength="13.9" lengthAdjust="spacingAndGlyphs">49</text>
<text x="1390.2" y="329.8" class="v" textLength="13.9" lengthAdjust="spacingAndGlyphs">21</text>
<text x="12.1" y="349.5" class="yl" textLength="33.6" lengthAdjust="spacingAndGlyphs">07:00</text>
<text x="118.6" y="349.8" class="v" textLength="13.9" lengthAdjust="spacingAndGlyphs">16</text>
<text x="234.2" y="349.8" class="v" textLength="13.9" lengthAdjust="spacingAndGlyphs">11</text>
<text x="349.8" y="349.8" class="v" textLength="7.0" lengthAdjust="spacingAndGlyphs">8</text>
<text x="465.4" y="349.8" class="v" textLength="13.9" lengthAdjust="spacingAndGlyphs">26</text>
<text x="581.0" y="349.8" class="v" textLength="13.9" lengthAdjust="spacingAndGlyphs">23</text>
<text x="696.6" y="349.8" class="v" textLength="13.9" lengthAdjust="spacingAndGlyphs">41</text>
<text x="927.8" y="349.8" class="v" textLength="13.9" lengthAdjust="spacingAndGlyphs">56</text>
<text x="1043.4" y="349.8" class="v" textLength="13.9" lengthAdjust="spacingAndGlyphs">20</text>
<text x="1159.0" y="349.8" class="v" textLength="13.9" lengthAdjust="spacingAndGlyphs">41</text>
<text x="1274.6" y="349.8" class="v" textLength="13.9" lengthAdjust="spacingAndGlyphs">41</text>
<text x="1390.2" y="349.8" class="v" textLength="13.9" lengthAdjust="spacingAndGlyphs">45</text>
<text x="12.1" y="369.5" class="yl" textLength="33.6" lengthAdjust="spacingAndGlyphs">06:00</text>
<text x="118.6" y="369.8" class="v" textLength="13.9" lengthAdjust="spacingAndGlyphs">16</text>
<text x="234.2" y="369.8" class="v" textLength="7.0" lengthAdjust="spacingAndGlyphs">7</text>
<text x="349.8" y="369.8" class="v" textLength="7.0" lengthAdjust="spacingAndGlyphs">9</text>
<text x="465.4" y="369.8" class="v" textLength="13.9" lengthAdjust="spacingAndGlyphs">37</text>
<text x="581.0" y="369.8" class="v" textLength="13.9" lengthAdjust="spacingAndGlyphs">22</text>
<text x="696.6" y="369.8" class="v" textLength="13.9" lengthAdjust="spacingAndGlyphs">45</text>
<text x="927.8" y="369.8" class="v" textLength="20.9" lengthAdjust="spacingAndGlyphs">100</text>
<text x="1043.4" y="369.8" class="v" textLength="13.9" lengthAdjust="spacingAndGlyphs">28</text>
<text x="1159.0" y="369.8" class="v" textLength="13.9" lengthAdjust="spacingAndGlyphs">45</text>
<text x="1274.6" y="369.8" class="v" textLength="13.9" lengthAdjust="spacingAndGlyphs">61</text>
<text x="1390.2" y="369.8" class="v" textLength="13.9" lengthAdjust="spacingAndGlyphs">30</text>
<text x="12.1" y="389.5" class="yl" textLength="33.6" lengthAdjust="spacingAndGlyphs">05:00</text>
<text x="118.6" y="389.8" class="v" textLength="13.9" lengthAdjust="spacingAndGlyphs">25</text>
<text x="234.2" y="389.8" class="v" textLength="13.9" lengthAdjust="spacingAndGlyphs">12</text>
<text x="349.8" y="389.8" class="v" textLength="13.9" lengthAdjust="spacingAndGlyphs">10</text>
<text x="465.4" y="389.8" class="v" textLength="13.9" lengthAdjust="spacingAndGlyphs">37</text>
<text x="581.0" y="389.8" class="v" textLength="13.9" lengthAdjust="spacingAndGlyphs">17</text>
<text x="696.6" y="389.8" class="v" textLength="13.9" lengthAdjust="spacingAndGlyphs">63</text>
<text x="927.8" y="389.8" class="v" textLength="13.9" lengthAdjust="spacingAndGlyphs">72</text>
<text x="1043.4" y="389.8" class="v" textLength="13.9" lengthAdjust="spacingAndGlyphs">38</text>
<text x="1159.0" y="389.8" class="v" textLength="13.9" lengthAdjust="spacingAndGlyphs">65</text>
<text x="1274.6" y="389.8" class="v" textLength="20.9" lengthAdjust="spacingAndGlyphs">173</text>
<text x="1390.2" y="389.8" class="v" textLength="13.9" lengthAdjust="spacingAndGlyphs">23</text>
<text x="12.1" y="409.5" class="yl" textLength="33.6" lengthAdjust="spacingAndGlyphs">04:00</text>
<text x="118.6" y="409.8" class="v" textLength="13.9" lengthAdjust="spacingAndGlyphs">20</text>
<text x="234.2" y="409.8" class="v" textLength="7.0" lengthAdjust="spacingAndGlyphs">7</text>
<text x="349.8" y="409.8" class="v" textLength="7.0" lengthAdjust="spacingAndGlyphs">9</text>
<text x="465.4" y="409.8" class="v" textLength="13.9" lengthAdjust="spacingAndGlyphs">37</text>
<text x="581.0" y="409.8" class="v" textLength="13.9" lengthAdjust="spacingAndGlyphs">42</text>
<text x="696.6" y="409.8" class="v" textLength="13.9" lengthAdjust="spacingAndGlyphs">61</text>
<text x="927.8" y="409.8" class="v" textLength="13.9" lengthAdjust="spacingAndGlyphs">57</text>
<text x="1043.4" y="409.8" class="v" textLength="13.9" lengthAdjust="spacingAndGlyphs">37</text>
<text x="1159.0" y="409.8" class="v" textLength="13.9" lengthAdjust="spacingAndGlyphs">21</text>
<text x="1274.6" y="409.8" class="v" textLength="20.9" lengthAdjust="spacingAndGlyphs">135</text>
<text x="1390.2" y="409.8" class="v" textLength="13.9" lengthAdjust="spacingAndGlyphs">27</text>
<text x="12.1" y="429.5" class="yl" textLength="33.6" lengthAdjust="spacingAndGlyphs">03:00</text>
<text x="118.6" y="429.8" class="v" textLength="13.9" lengthAdjust="spacingAndGlyphs">18</text>
<text x="234.2" y="429.8" class="v" textLength="7.0" lengthAdjust="spacingAndGlyphs">9</text>
<text x="349.8" y="429.8" class="v" textLength="13.9" lengthAdjust="spacingAndGlyphs">10</text>
<text x="465.4" y="429.8" class="v" textLength="13.9" lengthAdjust="spacingAndGlyphs">39</text>
<text x="581.0" y="429.8" class="v" textLength="13.9" lengthAdjust="spacingAndGlyphs">50</text>
<text x="696.6" y="429.8" class="v" textLength="13.9" lengthAdjust="spacingAndGlyphs">48</text>
<text x="812.2" y="429.8" class="v" textLength="20.9" lengthAdjust="spacingAndGlyphs">118</text>
<text x="927.8" y="429.8" class="v" textLength="13.9" lengthAdjust="spacingAndGlyphs">83</text>
<text x="1043.4" y="429.8" class="v" textLength="13.9" lengthAdjust="spacingAndGlyphs">41</text>
<text x="1159.0" y="429.8" class="v" textLength="13.9" lengthAdjust="spacingAndGlyphs">31</text>
<text x="1274.6" y="429.8" class="v" textLength="13.9" lengthAdjust="spacingAndGlyphs">92</text>
<text x="1390.2" y="429.8" class="v" textLength="13.9" lengthAdjust="spacingAndGlyphs">33</text>
<text x="12.1" y="449.5" class="yl" textLength="33.6" lengthAdjust="spacingAndGlyphs">02:00</text>
<text x="118.6" y="449.8" class="v" textLength="13.9" lengthAdjust="spacingAndGlyphs">11</text>
<text x="234.2" y="449.8" class="v" textLength="7.0" lengthAdjust="spacingAndGlyphs">6</text>
<text x="349.8" y="449.8" class="v" textLength="13.9" lengthAdjust="spacingAndGlyphs">11</text>
<text x="465.4" y="449.8" class="v" textLength="13.9" lengthAdjust="spacingAndGlyphs">36</text>
<text x="581.0" y="449.8" class="v" textLength="13.9" lengthAdjust="spacingAndGlyphs">32</text>
<text x="696.6" y="449.8" class="v" textLength="13.9" lengthAdjust="spacingAndGlyphs">19</text>
<text x="812.2" y="449.8" class="v" textLength="20.9" lengthAdjust="spacingAndGlyphs">117</text>
<text x="927.8" y="449.8" class="v" textLength="13.9" lengthAdjust="spacingAndGlyphs">69</text>
<text x="1043.4" y="449.8" class="v" textLength="13.9" lengthAdjust="spacingAndGlyphs">32</text>
<text x="1159.0" y="449.8" class="v" textLength="13.9" lengthAdjust="spacingAndGlyphs">45</text>
<text x="1274.6" y="449.8" class="v" textLength="20.9" lengthAdjust="spacingAndGlyphs">119</text>
<text x="1390.2" y="449.8" class="v" textLength="13.9" lengthAdjust="spacingAndGlyphs">35</text>
<text x="12.1" y="469.5" class="yl" textLength="33.6" lengthAdjust="spacingAndGlyphs">01:00</text>
<text x="118.6" y="469.8" class="v" textLength="13.9" lengthAdjust="spacingAndGlyphs">15</text>
<text x="234.2" y="469.8" class="v" textLength="7.0" lengthAdjust="spacingAndGlyphs">9</text>
<text x="349.8" y="469.8" class="v" textLength="13.9" lengthAdjust="spacingAndGlyphs">16</text>
<text x="465.4" y="469.8" class="v" textLength="13.9" lengthAdjust="spacingAndGlyphs">32</text>
<text x="581.0" y="469.8" class="v" textLength="13.9" lengthAdjust="spacingAndGlyphs">61</text>
<text x="696.6" y="469.8" class="v" textLength="13.9" lengthAdjust="spacingAndGlyphs">47</text>
<text x="812.2" y="469.8" class="v" textLength="20.9" lengthAdjust="spacingAndGlyphs">120</text>
<text x="927.8" y="469.8" class="v" textLength="20.9" lengthAdjust="spacingAndGlyphs">127</text>
<text x="1043.4" y="469.8" class="v" textLength="13.9" lengthAdjust="spacingAndGlyphs">60</text>
<text x="1159.0" y="469.8" class="v" textLength="13.9" lengthAdjust="spacingAndGlyphs">40</text>
<text x="1274.6" y="469.8" class="v" textLength="20.9" lengthAdjust="spacingAndGlyphs">115</text>
<text x="1390.2" y="469.8" class="v" textLength="13.9" lengthAdjust="spacingAndGlyphs">99</text>
<text x="12.1" y="489.5" class="yl" textLength="33.6" lengthAdjust="spacingAndGlyphs">00:00</text>
<text x="118.6" y="489.8" class="v" textLength="7.0" lengthAdjust="spacingAndGlyphs">9</text>
<text x="234.2" y="489.8" class="v" textLength="13.9" lengthAdjust="spacingAndGlyphs">20</text>
<text x="349.8" y="489.8" class="v" textLength="13.9" lengthAdjust="spacingAndGlyphs">15</text>
<text x="465.4" y="489.8" class="v" textLength="13.9" lengthAdjust="spacingAndGlyphs">21</text>
<text x="581.0" y="489.8" class="v" textLength="13.9" lengthAdjust="spacingAndGlyphs">28</text>
<text x="696.6" y="489.8" class="v" textLength="13.9" lengthAdjust="spacingAndGlyphs">73</text>
<text x="812.2" y="489.8" class="v" textLength="20.9" lengthAdjust="spacingAndGlyphs">101</text>
<text x="927.8" y="489.8" class="v" textLength="20.9" lengthAdjust="spacingAndGlyphs">158</text>
<text x="1043.4" y="489.8" class="v" textLength="13.9" lengthAdjust="spacingAndGlyphs">49</text>
<text x="1159.0" y="489.8" class="v" textLength="13.9" lengthAdjust="spacingAndGlyphs">49</text>
<text x="1274.6" y="489.8" class="v" textLength="20.9" lengthAdjust="spacingAndGlyphs">127</text>
<text x="1390.2" y="489.8" class="v" textLength="13.9" lengthAdjust="spacingAndGlyphs">45</text>
<text x="118.6" y="514.6" class="xl" textLength="36.8" lengthAdjust="spacingAndGlyphs">04-06</text>
<text x="234.2" y="514.6" class="xl" textLength="36.8" lengthAdjust="spacingAndGlyphs">04-07</text>
<text x="349.8" y="514.6" class="xl" textLength="36.8" lengthAdjust="spacingAndGlyphs">04-08</text>
<text x="465.4" y="514.6" class="xl" textLength="36.8" lengthAdjust="spacingAndGlyphs">04-09</text>
<text x="581.0" y="514.6" class="xl" textLength="36.8" lengthAdjust="spacingAndGlyphs">04-10</text>
<text x="696.6" y="514.6" class="xl" textLength="36.8" lengthAdjust="spacingAndGlyphs">04-11</text>
<text x="812.2" y="514.6" class="xl" textLength="36.8" lengthAdjust="spacingAndGlyphs">04-12</text>
<text x="927.8" y="514.6" class="xl" textLength="36.8" lengthAdjust="spacingAndGlyphs">04-13</text>
<text x="1043.4" y="514.6" class="xl" textLength="36.8" lengthAdjust="spacingAndGlyphs">04-14</text>
<text x="1159.0" y="514.6" class="xl" textLength="36.8" lengthAdjust="spacingAndGlyphs">04-15</text>
<text x="1274.6" y="514.6" class="xl" textLength="36.8" lengthAdjust="spacingAndGlyphs">04-16</text>
<text x="1390.2" y="514.6" class="xl" textLength="36.8" lengthAdjust="spacingAndGlyphs">04-17</text>
<rect x="408.1" y="539.5" width="19.8" height="19.8" rx="4.5" fill="#b3d1fb"/>
<text x="434.5" y="554.8" class="lg" textLength="57.6" lengthAdjust="spacingAndGlyphs">&lt; 5 gwei</text>
<rect x="505.3" y="539.5" width="19.8" height="19.8" rx="4.5" fill="#b4f7aa"/>
<text x="532.4" y="554.8" class="lg" textLength="66.1" lengthAdjust="spacingAndGlyphs">&lt; 20 gwei</text>
<rect x="612.1" y="539.5" width="19.8" height="19.8" rx="4.5" fill="#f8e79d"/>
<text x="639.3" y="554.8" class="lg" textLength="66.1" lengthAdjust="spacingAndGlyphs">&lt; 50 gwei</text>
<rect x="719.2" y="539.5" width="19.8" height="19.8" rx="4.5" fill="#f1a596"/>
<text x="745.9" y="554.8" class="lg" textLength="73.5" lengthAdjust="spacingAndGlyphs">&lt; 100 gwei</text>
<rect x="833.1" y="539.5" width="19.8" height="19.8" rx="4.5" fill="#e95a5a"/>
<text x="860.0" y="554.8" class="lg" textLength="75.7" lengthAdjust="spacingAndGlyphs">&lt; 300 gwei</text>
<rect x="949.0" y="539.5" width="19.8" height="19.8" rx="4.5" fill="#7b241f"/>
<text x="975.7" y="554.8" class="lg" textLength="76.3" lengthAdjust="spacingAndGlyphs">&gt; 300 gwei</text>
</svg>
</body></html>
